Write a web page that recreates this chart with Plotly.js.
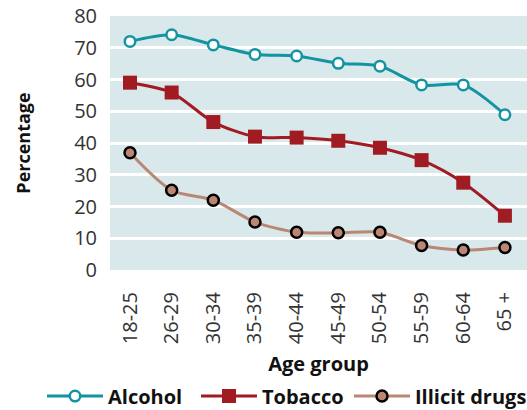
<!DOCTYPE html>
<html>
<head>
<meta charset="utf-8">
<script src="https://cdn.plot.ly/plotly-3.0.1.min.js"></script>
<style>html,body{margin:0;padding:0;background:#fff;}#chart{width:527px;height:410px;}</style>
</head>
<body>
<div id="chart"></div>
<script>
const ageGroups = ['18-25','26-29','30-34','35-39','40-44','45-49','50-54','55-59','60-64','65 +'];
const alcohol = [72.0, 74.1, 70.9, 67.9, 67.4, 65.1, 64.2, 58.3, 58.3, 48.9];
const tobacco = [59.0, 55.9, 46.6, 42.0, 41.7, 40.7, 38.5, 34.6, 27.5, 17.1];
const illicit = [36.9, 25.1, 22.0, 15.1, 11.9, 11.7, 11.9, 7.7, 6.3, 7.1];
const yTicks = [0,10,20,30,40,50,60,70,80];

const FONT = 'Open Sans, Noto Sans, sans-serif';

const traces = [
  {x: ageGroups, y: alcohol, name: 'Alcohol', type: 'scatter', mode: 'lines+markers', legend: 'legend',
   line: {color: '#1394a1', width: 3, shape: 'spline', smoothing: 0.8},
   marker: {symbol: 'circle', size: 10.5, color: '#ffffff', line: {color: '#1394a1', width: 2.5}}},
  {x: ageGroups, y: tobacco, name: 'Tobacco', type: 'scatter', mode: 'lines+markers', legend: 'legend2',
   line: {color: '#a01c22', width: 3, shape: 'spline', smoothing: 0.8},
   marker: {symbol: 'square', size: 14, color: '#a01c22', line: {width: 0}}},
  {x: ageGroups, y: illicit, name: 'Illicit drugs', type: 'scatter', mode: 'lines+markers', legend: 'legend3',
   line: {color: '#bb8674', width: 3, shape: 'spline', smoothing: 0.8},
   marker: {symbol: 'circle', size: 11, color: '#bb8674', line: {color: '#000000', width: 2.5}}}
];

function leg(xpx) {
  return {
    orientation: 'h', xref: 'container', yref: 'container',
    x: xpx / 527, xanchor: 'left', y: 0.034, yanchor: 'middle',
    font: {family: FONT, size: 20, color: '#111111', weight: 700},
    itemwidth: 56, bgcolor: 'rgba(0,0,0,0)', borderwidth: 0
  };
}

const layout = {
  width: 527, height: 410,
  margin: {l: 110, r: 0, t: 16, b: 140, pad: 0},
  paper_bgcolor: '#ffffff',
  plot_bgcolor: '#d9e8eb',
  font: {family: FONT, color: '#333333', size: 20},
  showlegend: true,
  legend: leg(42),
  legend2: leg(196),
  legend3: leg(349),
  xaxis: {
    type: 'category', range: [-0.48, 9.53],
    tickangle: -90, ticks: '', showgrid: false, zeroline: false, showline: false,
    tickfont: {family: FONT, size: 20, color: '#333333'},
    ticklabelstandoff: 17,
    title: {text: 'Age group', font: {family: FONT, size: 20, color: '#111111', weight: 700}, standoff: 18}
  },
  yaxis: {
    range: [0, 80], tickvals: yTicks, ticks: '',
    showgrid: true, gridcolor: '#ffffff', gridwidth: 3,
    zeroline: false, showline: false,
    tickfont: {family: FONT, size: 20, color: '#333333'},
    ticklabelstandoff: 12,
    title: {text: 'Percentage', font: {family: FONT, size: 18, color: '#111111', weight: 700}, standoff: 38}
  }
};

Plotly.newPlot('chart', traces, layout, {displayModeBar: false, staticPlot: true});
</script>
</body>
</html>
